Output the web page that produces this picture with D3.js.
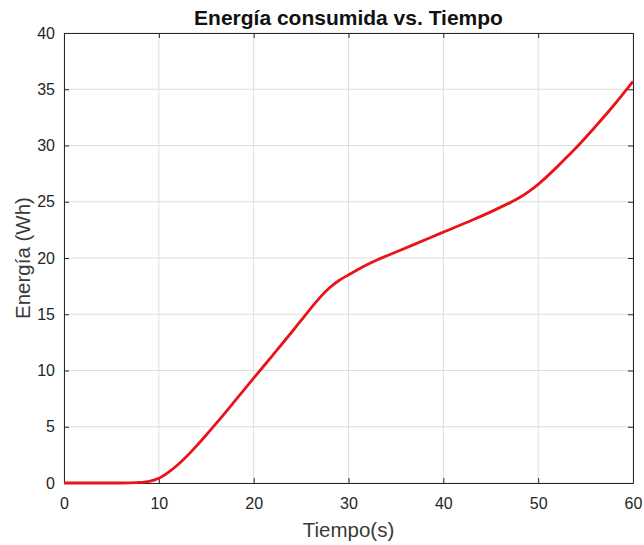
<!DOCTYPE html>
<html lang="es">
  <head>
    <script src="https://d3js.org/d3.v7.min.js"></script>
    <meta charset="utf-8">
    <title>Energía consumida vs. Tiempo</title>
    <style>
      body { margin: 0; background: #fff; }
      text { font-family: "Liberation Sans", Arial, sans-serif; fill: #262626; }
    </style>
  </head>
  <body>
    <svg id="chart"></svg>
    <script type="text/javascript">

     // data
     var tiempo = [0, 2, 4, 6, 7, 8, 9, 10, 11, 12, 13, 14, 15, 16, 18, 20, 22, 24, 25, 26, 27, 28, 29, 30,
                   31, 32, 33, 34, 35, 37, 40, 43, 45, 46, 47, 48, 49, 50, 51, 52, 53, 54, 56, 58, 60];
     var energia = [0, 0, 0, 0, 0.01, 0.05, 0.15, 0.42, 0.95, 1.62, 2.42, 3.32, 4.27, 5.25, 7.27, 9.32, 11.35, 13.4, 14.45, 15.5, 16.5, 17.35, 18.0, 18.5,
                    18.98, 19.42, 19.82, 20.18, 20.53, 21.23, 22.3, 23.35, 24.1, 24.5, 24.9, 25.35, 25.9, 26.55, 27.3, 28.1, 28.95, 29.8, 31.65, 33.6, 35.7];
     var xTicks = [0, 10, 20, 30, 40, 50, 60];
     var yTicks = [0, 5, 10, 15, 20, 25, 30, 35, 40];

     var width = 644;
     var height = 545;
     var margin = {top: 33, right: 11, bottom: 62, left: 64};
     var w = width - margin.left - margin.right;
     var h = height - margin.top - margin.bottom;

     var svg = d3.select("#chart")
       .attr("width", width)
       .attr("height", height);

     var g = svg.append("g")
       .attr("transform", "translate(" + margin.left + "," + margin.top + ")");

     var x = d3.scaleLinear().domain([0, 60]).range([0, w]);
     var y = d3.scaleLinear().domain([0, 40]).range([h, 0]);

     // grid
     g.selectAll(".gx")
       .data(xTicks)
       .enter()
       .append("line")
       .attr("x1", function(d) { return x(d); })
       .attr("x2", function(d) { return x(d); })
       .attr("y1", 0)
       .attr("y2", h)
       .attr("stroke", "#dedede")
       .attr("stroke-width", 1);

     g.selectAll(".gy")
       .data(yTicks)
       .enter()
       .append("line")
       .attr("x1", 0)
       .attr("x2", w)
       .attr("y1", function(d) { return y(d); })
       .attr("y2", function(d) { return y(d); })
       .attr("stroke", "#dedede")
       .attr("stroke-width", 1);

     // axes, ticks pointing inward like matlab
     var xAxis = d3.axisBottom(x).tickValues(xTicks).tickSize(-5).tickPadding(15);
     var yAxis = d3.axisLeft(y).tickValues(yTicks).tickSize(-5).tickPadding(9);

     g.append("g")
       .attr("transform", "translate(0," + h + ")")
       .call(xAxis);
     g.append("g").call(yAxis);

     g.append("g").call(d3.axisTop(x).tickValues(xTicks).tickSize(-5).tickFormat(""));
     g.append("g").attr("transform", "translate(" + w + ",0)")
       .call(d3.axisRight(y).tickValues(yTicks).tickSize(-5).tickFormat(""));

     g.selectAll(".domain").attr("stroke", "#262626");
     g.selectAll(".tick line").attr("stroke", "#262626");
     g.selectAll(".tick text")
       .style("font-family", "'Liberation Sans', Arial, sans-serif")
       .style("font-size", "16px")
       .attr("fill", "#3a3a3a");

     // line
     var line = d3.line()
       .x(function(d, i) { return x(tiempo[i]); })
       .y(function(d) { return y(d); })
       .curve(d3.curveMonotoneX);

     g.append("path")
       .datum(energia)
       .attr("d", line)
       .attr("fill", "none")
       .attr("stroke", "#e8141a")
       .attr("stroke-width", 2.8)
       .attr("stroke-linejoin", "round");

     // labels
     svg.append("text")
       .attr("x", margin.left + w / 2)
       .attr("y", 25)
       .attr("text-anchor", "middle")
       .style("font-size", "21px")
       .style("font-weight", "bold")
       .style("fill", "#111")
       .text("Energía consumida vs. Tiempo");

     svg.append("text")
       .attr("x", margin.left + w / 2)
       .attr("y", 537)
       .attr("text-anchor", "middle")
       .style("font-size", "20.5px")
       .style("fill", "#3a3a3a")
       .text("Tiempo(s)");

     svg.append("text")
       .attr("transform", "translate(30," + (margin.top + h / 2) + ") rotate(-90)")
       .attr("text-anchor", "middle")
       .style("font-size", "20.5px")
       .style("fill", "#3a3a3a")
       .text("Energía (Wh)");

     </script>
  </body>
</html>
